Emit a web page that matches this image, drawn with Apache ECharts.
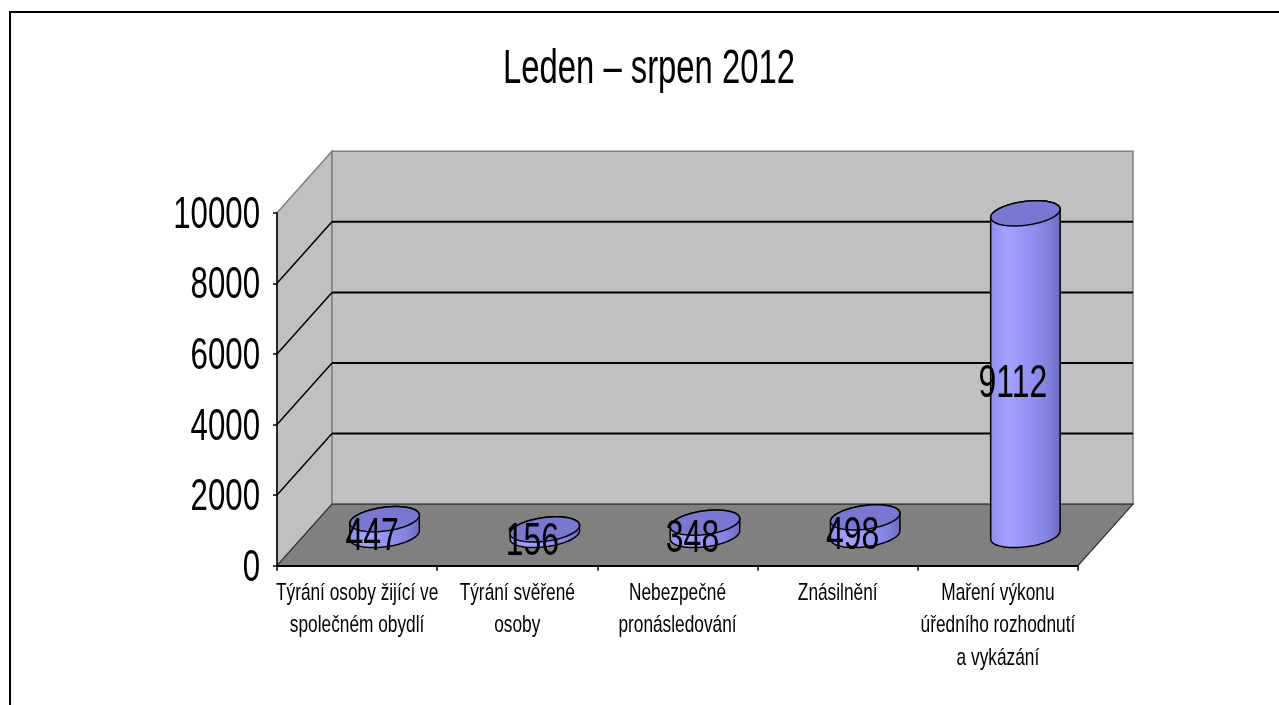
<!DOCTYPE html>
<html><head><meta charset="utf-8">
<script src="https://cdn.jsdelivr.net/npm/echarts@6/dist/echarts.min.js"></script>
<style>html,body{margin:0;padding:0;background:#fff;overflow:hidden}#c{width:1279px;height:705px}</style>
</head><body><div id="c"></div>
<script>
// ---- data ----
const titleText = 'Leden – srpen 2012';
const categories = [
  'Týrání osoby žijící ve\nspolečném obydlí',
  'Týrání svěřené\nosoby',
  'Nebezpečné\npronásledování',
  'Znásilnění',
  'Maření výkonu\núředního rozhodnutí\na vykázání'
];
const values = [447, 156, 348, 498, 9112];
const yTicks = [0, 2000, 4000, 6000, 8000, 10000];
const wallGridValues = [2000, 4000, 6000, 8000];

// ---- layout / style constants ----
const FONT = '"Liberation Sans", Arial, sans-serif';
const DX = 55, DY = -61.5;       // oblique depth vector of the 3D box
const CYL = 0.205;               // cylinder radius as fraction of band width

const chart = echarts.init(document.getElementById('c'), null, {renderer: 'canvas'});

function boxInfo(api) {
  const n = categories.length;
  const bw = api.size([1, 0])[0];
  const xL = api.coord([0, 0])[0] - bw / 2;
  const xR = api.coord([n - 1, 0])[0] + bw / 2;
  const y0 = api.coord([0, yTicks[0]])[1];
  const yT = api.coord([0, yTicks[yTicks.length - 1]])[1];
  return {bw, xL, xR, y0, yT};
}

function txt(x, y, text, size, sx, align, valign, extra) {
  return Object.assign({
    type: 'text', x: x, y: y, scaleX: sx,
    style: {
      text: text, font: size + 'px ' + FONT, fill: '#000',
      align: align, textAlign: align, verticalAlign: valign, textVerticalAlign: valign
    }
  }, extra || {});
}

function renderWalls(params, api) {
  const b = boxInfo(api);
  const {xL, xR, y0, yT} = b;
  const ch = [];
  ch.push({type: 'polygon', shape: {points: [[xL, y0], [xL, yT], [xL + DX, yT + DY], [xL + DX, y0 + DY]]},
    style: {fill: '#C0C0C0', stroke: '#808080', lineWidth: 1.5}});
  ch.push({type: 'polygon', shape: {points: [[xL + DX, yT + DY], [xR + DX, yT + DY], [xR + DX, y0 + DY], [xL + DX, y0 + DY]]},
    style: {fill: '#C0C0C0', stroke: '#808080', lineWidth: 1.5}});
  ch.push({type: 'polygon', shape: {points: [[xL, y0], [xR, y0], [xR + DX, y0 + DY], [xL + DX, y0 + DY]]},
    style: {fill: '#808080', stroke: '#303030', lineWidth: 1.2}});
  wallGridValues.forEach(function (v) {
    const y = api.coord([0, v])[1];
    ch.push({type: 'line', shape: {x1: xL + DX, y1: y + DY, x2: xR + DX, y2: y + DY}, style: {stroke: '#000', lineWidth: 2}});
    ch.push({type: 'line', shape: {x1: xL, y1: y, x2: xL + DX, y2: y + DY}, style: {stroke: '#000', lineWidth: 1.5}});
  });
  // y tick labels
  yTicks.forEach(function (v) {
    const y = api.coord([0, v])[1];
    ch.push(txt(xL - 17, y + 3, String(v), 44, 0.71, 'right', 'middle'));
  });
  // category labels
  categories.forEach(function (c, i) {
    const p = api.coord([i, 0]);
    ch.push(txt(p[0], y0 + 11, c, 24, 0.72, 'center', 'top',
      {style: {text: c, font: '24px ' + FONT, fill: '#000', align: 'center', textAlign: 'center',
        verticalAlign: 'top', textVerticalAlign: 'top', lineHeight: 32.5, textLineHeight: 32.5}}));
  });
  return {type: 'group', children: ch};
}

function renderCylinder(params, api) {
  const i = api.value(0), v = api.value(1);
  const bw = api.size([1, 0])[0];
  const pb = api.coord([i, 0]), ptop = api.coord([i, v]);
  const cx = pb[0] + DX / 2, yb = pb[1] + DY / 2, yt = ptop[1] + DY / 2;
  const r = bw * CYL, a = DX * CYL, bb = DY * CYL;
  const th0 = Math.atan2(a, r);
  const N = 48;
  const P = function (cy, th) { return [cx + r * Math.cos(th) + a * Math.sin(th), cy + bb * Math.sin(th)]; };
  const body = [];
  for (let j = 0; j <= N; j++) body.push(P(yb, th0 - Math.PI * j / N));
  for (let j = 0; j <= N; j++) body.push(P(yt, th0 + Math.PI - Math.PI * j / N));
  const top = [];
  for (let j = 0; j < 2 * N; j++) top.push(P(yt, Math.PI * j / N));
  const grad = new echarts.graphic.LinearGradient(0, 0, 1, 0, [
    {offset: 0, color: '#8E8EF0'},
    {offset: 0.25, color: '#A2A2FF'},
    {offset: 0.6, color: '#9090F2'},
    {offset: 0.85, color: '#7E7EDA'},
    {offset: 1, color: '#6A6AC0'}
  ]);
  const lbl = api.coord([i, v / 2]);
  return {type: 'group', children: [
    {type: 'polygon', shape: {points: body}, style: {fill: grad, stroke: '#000', lineWidth: 1.5}},
    {type: 'polygon', shape: {points: top}, style: {fill: '#7878D2', stroke: '#000', lineWidth: 1.5}},
    txt(lbl[0] + 15, lbl[1] - 20.5, String(v), 47, 0.68, 'center', 'middle')
  ]};
}

const option = {
  backgroundColor: '#fff',
  animation: false,
  graphic: [
    {type: 'rect', shape: {x: 10, y: 12, width: 1300, height: 720},
      style: {fill: 'none', stroke: '#000', lineWidth: 2}, z: -10},
    {type: 'text', x: 649, y: 69, scaleX: 0.67,
      style: {text: titleText, font: '49px ' + FONT, fill: '#000', align: 'center', textAlign: 'center',
        verticalAlign: 'middle', textVerticalAlign: 'middle'}}
  ],
  grid: {left: 277, top: 212.7, width: 801, height: 353, containLabel: false},
  xAxis: {
    type: 'category', data: categories, boundaryGap: true, z: 10,
    axisLine: {show: true, lineStyle: {color: '#000', width: 2}},
    axisTick: {show: true, length: 5, alignWithLabel: false, lineStyle: {color: '#000', width: 1.5}},
    axisLabel: {show: false}, splitLine: {show: false}
  },
  yAxis: {
    type: 'value', min: 0, max: 10000, interval: 2000, z: 10,
    axisLine: {show: true, lineStyle: {color: '#000', width: 1.5}},
    axisTick: {show: true, length: 4, lineStyle: {color: '#000', width: 1.5}},
    axisLabel: {show: false}, splitLine: {show: false}
  },
  series: [
    {type: 'custom', renderItem: renderWalls, data: [[0, 0]], z: 1, silent: true, clip: false},
    {type: 'custom', renderItem: renderCylinder, data: values.map(function (v, i) { return [i, v]; }),
      encode: {x: 0, y: 1}, z: 3, clip: false}
  ]
};
chart.setOption(option);
</script>
</body></html>
